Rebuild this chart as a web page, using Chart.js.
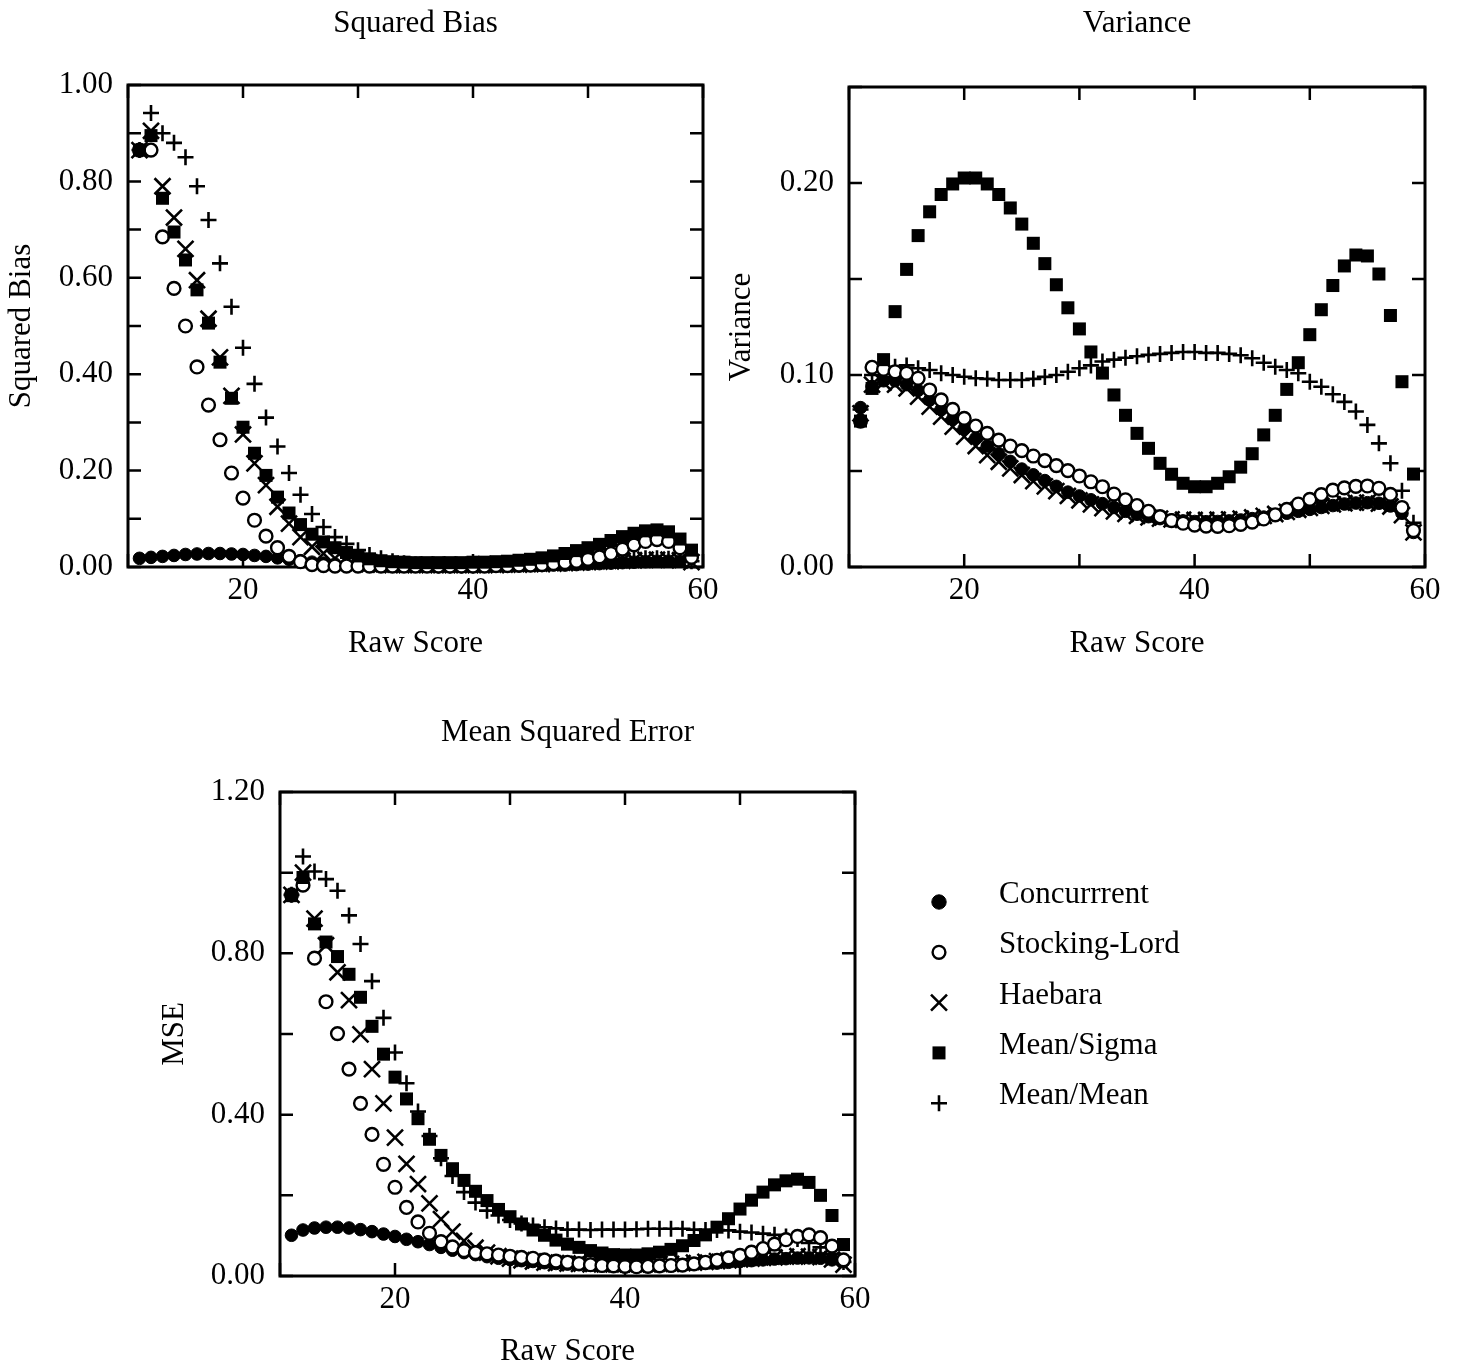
<!DOCTYPE html>
<html>
<head>
<meta charset="utf-8">
<title>Squared Bias, Variance and MSE by Raw Score</title>
<script src="https://cdn.jsdelivr.net/npm/chart.js@4.4.1/dist/chart.umd.min.js"></script>
<style>
  html, body { margin: 0; padding: 0; background: #fff; }
  body { width: 1462px; height: 1368px; position: relative; overflow: hidden; }
  canvas { position: absolute; }
  #bias { left: 0; top: 0; }
  #variance { left: 710px; top: 0; }
  #mse { left: 150px; top: 680px; }
</style>
</head>
<body>
<canvas id="bias" width="731" height="680"></canvas>
<canvas id="variance" width="752" height="680"></canvas>
<canvas id="mse" width="1100" height="688"></canvas>
<script>
// raw score categories (x) shared by every panel
const rawScores = [11, 12, 13, 14, 15, 16, 17, 18, 19, 20,
  21, 22, 23, 24, 25, 26, 27, 28, 29, 30,
  31, 32, 33, 34, 35, 36, 37, 38, 39, 40,
  41, 42, 43, 44, 45, 46, 47, 48, 49, 50,
  51, 52, 53, 54, 55, 56, 57, 58, 59];

const methods = ['Concurrrent', 'Stocking-Lord', 'Haebara', 'Mean/Sigma', 'Mean/Mean'];

// tick labels
const xLabelTicks = [20, 40, 60];
const biasLabelTicks = [0, 0.2, 0.4, 0.6, 0.8, 1.0];
const varianceLabelTicks = [0, 0.1, 0.2];
const mseLabelTicks = [0, 0.4, 0.8, 1.2];

// squared bias
const biasConcurrent = [0.018, 0.020, 0.022, 0.024, 0.026, 0.027, 0.028, 0.028, 0.027, 0.026,
  0.024, 0.022, 0.019, 0.016, 0.013, 0.010, 0.008, 0.006, 0.005, 0.004,
  0.003, 0.003, 0.002, 0.002, 0.002, 0.002, 0.002, 0.002, 0.002, 0.002,
  0.002, 0.002, 0.002, 0.002, 0.003, 0.003, 0.004, 0.004, 0.005, 0.006,
  0.007, 0.008, 0.009, 0.010, 0.011, 0.012, 0.012, 0.012, 0.019];
const biasStockingLord = [0.865, 0.865, 0.685, 0.578, 0.500, 0.415, 0.336, 0.264, 0.195, 0.143,
  0.097, 0.064, 0.040, 0.022, 0.011, 0.005, 0.003, 0.002, 0.002, 0.002,
  0.002, 0.002, 0.002, 0.002, 0.002, 0.002, 0.002, 0.002, 0.002, 0.002,
  0.002, 0.003, 0.003, 0.004, 0.004, 0.005, 0.007, 0.009, 0.012, 0.016,
  0.021, 0.028, 0.037, 0.046, 0.053, 0.057, 0.053, 0.040, 0.020];
const biasHaebara = [0.865, 0.905, 0.790, 0.725, 0.660, 0.595, 0.515, 0.435, 0.355, 0.275,
  0.215, 0.170, 0.125, 0.090, 0.062, 0.042, 0.028, 0.018, 0.012, 0.008,
  0.006, 0.005, 0.004, 0.004, 0.004, 0.004, 0.004, 0.004, 0.004, 0.004,
  0.004, 0.004, 0.005, 0.005, 0.006, 0.006, 0.007, 0.008, 0.009, 0.010,
  0.011, 0.012, 0.013, 0.014, 0.015, 0.015, 0.015, 0.014, 0.010];
const biasMeanSigma = [0.865, 0.895, 0.765, 0.695, 0.637, 0.575, 0.506, 0.425, 0.350, 0.290,
  0.236, 0.190, 0.145, 0.112, 0.088, 0.068, 0.052, 0.040, 0.030, 0.023,
  0.017, 0.013, 0.011, 0.010, 0.009, 0.009, 0.009, 0.009, 0.009, 0.010,
  0.010, 0.011, 0.012, 0.014, 0.016, 0.019, 0.023, 0.028, 0.034, 0.040,
  0.047, 0.055, 0.063, 0.070, 0.075, 0.077, 0.073, 0.058, 0.035];
const biasMeanMean = [0.865, 0.942, 0.900, 0.880, 0.850, 0.790, 0.720, 0.630, 0.540, 0.455,
  0.380, 0.310, 0.250, 0.195, 0.150, 0.110, 0.083, 0.062, 0.048, 0.035,
  0.025, 0.018, 0.012, 0.008, 0.005, 0.004, 0.003, 0.003, 0.003, 0.003,
  0.004, 0.005, 0.006, 0.007, 0.008, 0.009, 0.010, 0.011, 0.012, 0.013,
  0.014, 0.015, 0.016, 0.017, 0.018, 0.018, 0.017, 0.015, 0.012];

// variance
const varConcurrent = [0.083, 0.094, 0.097, 0.097, 0.095, 0.092, 0.087, 0.082, 0.077, 0.072,
  0.067, 0.063, 0.059, 0.055, 0.051, 0.048, 0.045, 0.042, 0.039, 0.037,
  0.035, 0.033, 0.031, 0.029, 0.0275, 0.0262, 0.0252, 0.0245, 0.024, 0.0237,
  0.0236, 0.0237, 0.024, 0.0245, 0.0252, 0.026, 0.027, 0.028, 0.029, 0.030,
  0.031, 0.032, 0.0328, 0.0333, 0.0335, 0.0332, 0.0318, 0.028, 0.018];
const varStockingLord = [0.076, 0.104, 0.103, 0.1017, 0.1009, 0.0983, 0.0922, 0.087, 0.0821, 0.0774,
  0.0734, 0.0696, 0.0661, 0.063, 0.0606, 0.0578, 0.0554, 0.0528, 0.0502, 0.0474,
  0.0444, 0.0418, 0.038, 0.035, 0.032, 0.029, 0.0262, 0.0242, 0.0228, 0.0218,
  0.0213, 0.0212, 0.0215, 0.0222, 0.0234, 0.025, 0.0272, 0.030, 0.0328, 0.0352,
  0.0377, 0.040, 0.0412, 0.042, 0.0422, 0.041, 0.0378, 0.031, 0.019];
const varHaebara = [0.080, 0.095, 0.096, 0.095, 0.093, 0.0887, 0.0835, 0.0783, 0.0731, 0.0679,
  0.063, 0.0583, 0.0548, 0.0514, 0.0479, 0.0447, 0.042, 0.0395, 0.037, 0.0347,
  0.0326, 0.0307, 0.029, 0.0277, 0.0266, 0.0258, 0.0252, 0.0248, 0.0246, 0.0245,
  0.0245, 0.0246, 0.0248, 0.0252, 0.0258, 0.0266, 0.0276, 0.0287, 0.0298, 0.0308,
  0.0318, 0.0326, 0.0332, 0.0335, 0.0335, 0.033, 0.0315, 0.027, 0.018];
const varMeanSigma = [0.076, 0.093, 0.108, 0.133, 0.155, 0.1726, 0.185, 0.194, 0.1995, 0.2026,
  0.2026, 0.1995, 0.194, 0.187, 0.1786, 0.1686, 0.158, 0.147, 0.135, 0.124,
  0.112, 0.101, 0.0896, 0.079, 0.0696, 0.0618, 0.054, 0.0483, 0.0436, 0.0418,
  0.0418, 0.0436, 0.047, 0.052, 0.059, 0.0688, 0.079, 0.0925, 0.1064, 0.121,
  0.134, 0.1466, 0.1568, 0.1625, 0.162, 0.1526, 0.131, 0.0965, 0.0484];
const varMeanMean = [0.082, 0.100, 0.103, 0.1043, 0.105, 0.1035, 0.1026, 0.1009, 0.100, 0.0991,
  0.0983, 0.098, 0.0974, 0.0974, 0.0974, 0.098, 0.099, 0.100, 0.1017, 0.1035,
  0.105, 0.107, 0.108, 0.109, 0.1098, 0.1105, 0.111, 0.1115, 0.112, 0.112,
  0.1115, 0.1115, 0.111, 0.1103, 0.1087, 0.1064, 0.1043, 0.1026, 0.1009, 0.0965,
  0.0939, 0.090, 0.086, 0.081, 0.074, 0.0644, 0.054, 0.0397, 0.023];

// mean squared error
const mseConcurrent = [0.101, 0.114, 0.119, 0.121, 0.121, 0.119, 0.115, 0.110, 0.104, 0.098,
  0.091, 0.085, 0.078, 0.071, 0.064, 0.058, 0.053, 0.048, 0.044, 0.041,
  0.038, 0.036, 0.033, 0.031, 0.0295, 0.028, 0.027, 0.0265, 0.026, 0.0257,
  0.0256, 0.0257, 0.026, 0.0265, 0.028, 0.029, 0.031, 0.032, 0.034, 0.036,
  0.038, 0.040, 0.042, 0.043, 0.0445, 0.045, 0.044, 0.040, 0.036];
const mseStockingLord = [0.945, 0.969, 0.788, 0.680, 0.601, 0.513, 0.428, 0.351, 0.277, 0.220,
  0.170, 0.134, 0.106, 0.085, 0.072, 0.063, 0.058, 0.055, 0.052, 0.049,
  0.046, 0.044, 0.040, 0.037, 0.034, 0.031, 0.028, 0.026, 0.025, 0.024,
  0.023, 0.024, 0.025, 0.026, 0.027, 0.030, 0.034, 0.039, 0.045, 0.051,
  0.059, 0.068, 0.079, 0.090, 0.098, 0.102, 0.095, 0.074, 0.040];
const mseHaebara = [0.945, 1.000, 0.886, 0.820, 0.753, 0.684, 0.599, 0.513, 0.428, 0.343,
  0.278, 0.228, 0.180, 0.141, 0.110, 0.087, 0.070, 0.058, 0.049, 0.043,
  0.039, 0.036, 0.033, 0.032, 0.031, 0.030, 0.029, 0.029, 0.029, 0.029,
  0.029, 0.029, 0.030, 0.030, 0.032, 0.033, 0.035, 0.037, 0.039, 0.041,
  0.043, 0.045, 0.046, 0.048, 0.049, 0.048, 0.047, 0.041, 0.028];
const mseMeanSigma = [0.943, 0.988, 0.873, 0.828, 0.792, 0.748, 0.691, 0.619, 0.550, 0.493,
  0.439, 0.390, 0.339, 0.299, 0.266, 0.237, 0.210, 0.187, 0.165, 0.147,
  0.129, 0.114, 0.101, 0.089, 0.079, 0.071, 0.063, 0.057, 0.053, 0.052,
  0.052, 0.055, 0.059, 0.066, 0.075, 0.088, 0.102, 0.121, 0.142, 0.166,
  0.188, 0.208, 0.226, 0.236, 0.240, 0.232, 0.200, 0.150, 0.078];
const mseMeanMean = [0.945, 1.040, 1.003, 0.984, 0.955, 0.894, 0.823, 0.731, 0.640, 0.554,
  0.478, 0.408, 0.347, 0.292, 0.248, 0.208, 0.182, 0.162, 0.150, 0.139,
  0.130, 0.125, 0.121, 0.118, 0.115, 0.115, 0.114, 0.115, 0.115, 0.115,
  0.116, 0.117, 0.117, 0.117, 0.117, 0.115, 0.114, 0.114, 0.113, 0.110,
  0.108, 0.105, 0.102, 0.098, 0.092, 0.082, 0.071, 0.055, 0.035];

const FONT = '"Liberation Serif", "Times New Roman", serif';
const TICK = 13;

Chart.defaults.font.family = FONT;
Chart.defaults.font.size = 31;
Chart.defaults.color = '#000';

// one marker per method, same look in every panel and in the key;
// lower order is painted later (on top)
const markers = [
  { pointStyle: 'circle', radius: 6.3, fill: '#000', borderWidth: 1, order: 4 },
  { pointStyle: 'circle', radius: 6.4, fill: '#fff', borderWidth: 2.4, order: 1 },
  { pointStyle: 'crossRot', radius: 11.3, fill: '#000', borderWidth: 2.6, order: 2 },
  { pointStyle: 'rect', radius: 9.2, fill: '#000', borderWidth: 0, order: 0 },
  { pointStyle: 'cross', radius: 8, fill: '#000', borderWidth: 2.6, order: 3 }
];

// box with inward tick marks on all four sides
const framePlugin = {
  id: 'frame',
  beforeDatasetsDraw(chart) {
    const { ctx, chartArea: a, scales: { x, y } } = chart;
    ctx.save();
    ctx.strokeStyle = '#000';
    ctx.lineWidth = 3;
    ctx.strokeRect(a.left, a.top, a.right - a.left, a.bottom - a.top);
    ctx.lineWidth = 2.5;
    ctx.beginPath();
    x.ticks.forEach(t => {
      const px = x.getPixelForValue(t.value);
      ctx.moveTo(px, a.bottom); ctx.lineTo(px, a.bottom - TICK);
      ctx.moveTo(px, a.top); ctx.lineTo(px, a.top + TICK);
    });
    y.ticks.forEach(t => {
      const py = y.getPixelForValue(t.value);
      ctx.moveTo(a.left, py); ctx.lineTo(a.left + TICK, py);
      ctx.moveTo(a.right, py); ctx.lineTo(a.right - TICK, py);
    });
    ctx.stroke();
    ctx.restore();
  }
};

// key drawn beside the MSE panel
const keyPlugin = {
  id: 'methodKey',
  afterDraw(chart, args, opts) {
    if (!opts.show) return;
    const { ctx } = chart;
    ctx.save();
    methods.forEach((name, i) => {
      const m = markers[i];
      const rowY = opts.y + opts.gap * i;
      ctx.fillStyle = m.fill;
      ctx.strokeStyle = '#000';
      ctx.lineWidth = m.borderWidth;
      const r = i === 0 ? 7.2 : m.radius;
      Chart.helpers.drawPoint(ctx, { pointStyle: m.pointStyle, radius: r, rotation: 0, borderWidth: m.borderWidth }, opts.markerX, rowY);
      ctx.fillStyle = '#000';
      ctx.font = '31px ' + FONT;
      ctx.textBaseline = 'alphabetic';
      ctx.textAlign = 'left';
      ctx.fillText(name, opts.textX, rowY + 1);
    });
    ctx.restore();
  }
};

const isLabel = (list, v) => list.some(t => Math.abs(t - v) < 1e-9);

function makePanel(id, p) {
  return new Chart(document.getElementById(id), {
    type: 'scatter',
    data: {
      datasets: methods.map((name, i) => ({
        label: name,
        data: rawScores.map((x, k) => ({ x, y: p.values[i][k] })),
        pointStyle: markers[i].pointStyle,
        pointRadius: markers[i].radius,
        pointBackgroundColor: markers[i].fill,
        pointBorderColor: '#000',
        pointBorderWidth: markers[i].borderWidth,
        order: markers[i].order,
        clip: false
      }))
    },
    options: {
      responsive: false,
      animation: false,
      events: [],
      layout: { autoPadding: false, padding: { left: 0, top: 0, right: p.right, bottom: 0 } },
      plugins: {
        legend: { display: false },
        tooltip: { enabled: false },
        title: {
          display: true, text: p.title, fullSize: false, color: '#000',
          font: { size: 31, weight: 'normal', lineHeight: 1.2 },
          padding: p.titlePad
        },
        methodKey: p.key || { show: false }
      },
      scales: {
        x: {
          type: 'linear', min: 10, max: 60,
          afterFit: s => { s.height = p.xHeight; },
          grid: { display: false, drawTicks: false },
          border: { display: false },
          ticks: {
            stepSize: 10, autoSkip: false, maxRotation: 0, padding: 5.4, color: '#000',
            callback: v => (isLabel(xLabelTicks, v) ? String(v) : '')
          },
          title: {
            display: true, text: 'Raw Score', color: '#000',
            font: { size: 31, lineHeight: 1 },
            padding: { top: 0, bottom: p.xTitlePad }
          }
        },
        y: {
          type: 'linear', min: 0, max: p.yMax,
          afterFit: s => { s.width = p.yWidth; },
          grid: { display: false, drawTicks: false },
          border: { display: false },
          ticks: {
            stepSize: p.yStep, autoSkip: false, padding: 15, color: '#000',
            callback: v => (isLabel(p.yLabels, v) ? v.toFixed(2) : '')
          },
          title: {
            display: true, text: p.yTitle, color: '#000',
            font: { size: 31, lineHeight: 1 },
            padding: { top: p.yTitlePad, bottom: 0 }
          }
        }
      }
    },
    plugins: [framePlugin, keyPlugin]
  });
}

makePanel('bias', {
  title: 'Squared Bias', yTitle: 'Squared Bias',
  values: [biasConcurrent, biasStockingLord, biasHaebara, biasMeanSigma, biasMeanMean],
  yMax: 1, yStep: 0.1, yLabels: biasLabelTicks,
  right: 28, titlePad: { top: 5.4, bottom: 42.4 },
  yWidth: 128, yTitlePad: 6.5, xHeight: 113, xTitlePad: 20.5
});

makePanel('variance', {
  title: 'Variance', yTitle: 'Variance',
  values: [varConcurrent, varStockingLord, varHaebara, varMeanSigma, varMeanMean],
  yMax: 0.25, yStep: 0.05, yLabels: varianceLabelTicks,
  right: 37, titlePad: { top: 5.4, bottom: 44.4 },
  yWidth: 139, yTitlePad: 16.5, xHeight: 113, xTitlePad: 20.5
});

makePanel('mse', {
  title: 'Mean Squared Error', yTitle: 'MSE',
  values: [mseConcurrent, mseStockingLord, mseHaebara, mseMeanSigma, mseMeanMean],
  yMax: 1.2, yStep: 0.2, yLabels: mseLabelTicks,
  right: 395, titlePad: { top: 34.4, bottom: 40.4 },
  yWidth: 130, yTitlePad: 9.5, xHeight: 92, xTitlePad: 0.5,
  key: { show: true, markerX: 789, textX: 849, y: 222, gap: 50.3 }
});
</script>
</body>
</html>
